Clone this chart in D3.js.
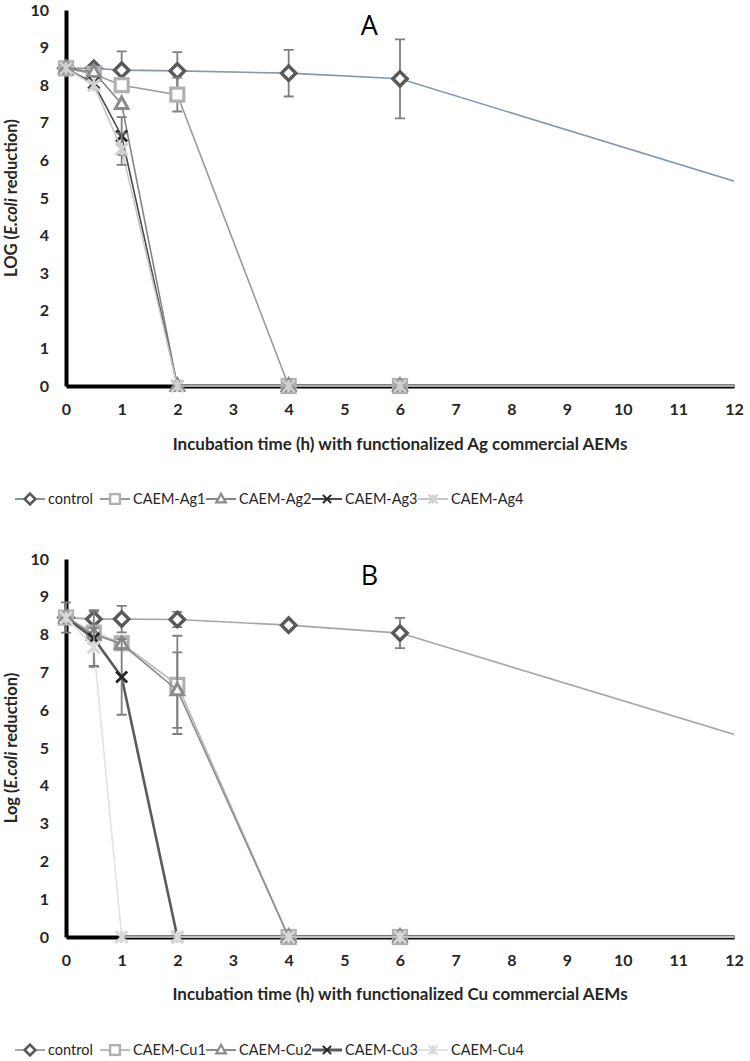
<!DOCTYPE html>
<html><head><meta charset="utf-8">
<script src="https://cdn.jsdelivr.net/npm/d3@7"></script>
<style>body{margin:0;background:#fff}svg{display:block}</style>
</head><body><svg id="c" width="750" height="1061"></svg>
<script>
// ---- data ----
const times = [0, 0.5, 1, 2, 4, 6, 24];
const xTicks = [0,1,2,3,4,5,6,7,8,9,10,11,12];
const yTicks = [0,1,2,3,4,5,6,7,8,9,10];

const namesA = ["control","CAEM-Ag1","CAEM-Ag2","CAEM-Ag3","CAEM-Ag4"];
const controlA = [8.45, 8.45, 8.4, 8.38, 8.32, 8.17, 0];
const ag1A     = [8.45, 8.3, 8.0, 7.75, 0, 0, 0];
const ag2A     = [8.45, 8.35, 7.5, 0, 0, 0, 0];
const ag3A     = [8.45, 8.05, 6.65, 0, 0, 0, 0];
const ag4A     = [8.45, 8.0, 6.3, 0, 0, 0, 0];
const errControlA = [0, 0, 0.5, 0.5, 0.62, 1.05, 0];
const errAg1A     = [0, 0, 0, 0.45, 0, 0, 0];
const errAg2A     = [0, 0, 0, 0, 0, 0, 0];
const errAg3A     = [0, 0, 0.5, 0, 0, 0, 0];
const errAg4A     = [0, 0, 0.42, 0, 0, 0, 0];

const namesB = ["control","CAEM-Cu1","CAEM-Cu2","CAEM-Cu3","CAEM-Cu4"];
const controlB = [8.45, 8.41, 8.41, 8.4, 8.25, 8.04, 0];
const cu1B     = [8.45, 8.05, 7.77, 6.67, 0, 0, 0];
const cu2B     = [8.45, 8.0, 7.75, 6.53, 0, 0, 0];
const cu3B     = [8.45, 7.9, 6.88, 0, 0, 0, 0];
const cu4B     = [8.45, 7.67, 0, 0, 0, 0, 0];
const errControlB = [0.4, 0.2, 0.35, 0.2, 0, 0.4, 0];
const errCu1B     = [0, 0, 0, 1.3, 0, 0, 0];
const errCu2B     = [0, 0, 0, 1.0, 0, 0, 0];
const errCu3B     = [0, 0.75, 1.0, 0, 0, 0, 0];
const errCu4B     = [0, 0.5, 0, 0, 0, 0, 0];

// ---- styles ----
const markers = ["diamond","square","triangle","x","star"];
const styleA = [
  {line:"#8497b0", lw:1.6, mc:"#595959"},
  {line:"#9a9a9a", lw:1.6, mc:"#b0b0b0"},
  {line:"#858585", lw:1.6, mc:"#8c8c8c"},
  {line:"#4a4a4a", lw:1.6, mc:"#262626"},
  {line:"#c8c8c8", lw:1.6, mc:"#d0d0d0"}
];
const styleB = [
  {line:"#a6a6a6", lw:1.6, mc:"#595959"},
  {line:"#bdbdbd", lw:1.8, mc:"#b0b0b0"},
  {line:"#8c8c8c", lw:1.6, mc:"#8c8c8c"},
  {line:"#5a5a5a", lw:2.6, mc:"#262626"},
  {line:"#e2e2e2", lw:1.6, mc:"#d9d9d9"}
];

const svg = d3.select("#c");
const FONT = "Lato, 'Open Sans', sans-serif";

function drawMarker(g, type, color, cx, cy, scale) {
  const s = scale || 1;
  if (type === "diamond") {
    const r = 7.2*s;
    g.append("path").attr("d",`M${cx},${cy-r}L${cx+r},${cy}L${cx},${cy+r}L${cx-r},${cy}Z`)
      .attr("fill","#fff").attr("stroke",color).attr("stroke-width",3.4*s);
  } else if (type === "square") {
    const r = 6.5*s;
    g.append("rect").attr("x",cx-r).attr("y",cy-r).attr("width",2*r).attr("height",2*r)
      .attr("fill","#fff").attr("stroke",color).attr("stroke-width",3.2*s);
  } else if (type === "triangle") {
    const r = 7*s;
    g.append("path").attr("d",`M${cx},${cy-r}L${cx+r*0.9},${cy+r*0.65}L${cx-r*0.9},${cy+r*0.65}Z`)
      .attr("fill","#fff").attr("stroke",color).attr("stroke-width",3*s);
  } else if (type === "x") {
    const r = 5.5*s;
    g.append("path").attr("d",`M${cx-r},${cy-r}L${cx+r},${cy+r}M${cx-r},${cy+r}L${cx+r},${cy-r}`)
      .attr("stroke",color).attr("stroke-width",2.8*s).attr("fill","none");
  } else if (type === "star") {
    const r = 6*s;
    g.append("path").attr("d",`M${cx-r},${cy-r}L${cx+r},${cy+r}M${cx-r},${cy+r}L${cx+r},${cy-r}M${cx},${cy-r}L${cx},${cy+r}`)
      .attr("stroke",color).attr("stroke-width",3*s).attr("fill","none");
  }
}

function panel(cfg) {
  const {top, bottom, left, right, series, errs, styles, names, title, titleDy, xTitle, yTitleMain, legendY, legendX, id} = cfg;
  const x = d3.scaleLinear().domain([0,12]).range([left,right]);
  const y = d3.scaleLinear().domain([0,10]).range([bottom,top]);
  const g = svg.append("g");

  svg.append("defs").append("clipPath").attr("id","clip"+id)
    .append("rect").attr("x",left-12).attr("y",top-20).attr("width",right-left+12).attr("height",bottom-top+40);

  // axes
  const yAxis = d3.axisLeft(y).tickValues(yTicks).tickSize(0).tickPadding(17).tickFormat(d3.format("d"));
  const ya = g.append("g").attr("transform",`translate(${left},0)`).call(yAxis);
  const xAxis = d3.axisBottom(x).tickValues(xTicks).tickSize(0).tickPadding(18).tickFormat(d3.format("d"));
  const xa = g.append("g").attr("transform",`translate(0,${bottom})`).call(xAxis);
  [ya, xa].forEach(a => {
    a.select(".domain").attr("stroke","#000").attr("stroke-width",4);
    a.selectAll("text").attr("font-family",FONT).attr("font-weight","bold").attr("font-size",16).attr("fill","#262626");
  });

  const plot = g.append("g").attr("clip-path",`url(#clip${id})`);
  const line = d3.line().x(d => x(d.t)).y(d => y(d.v));

  series.forEach((vals, i) => {
    const pts = times.map((t, j) => ({t, v: vals[j], e: errs[i][j]}));
    plot.append("path").datum(pts).attr("d", line).attr("fill","none")
      .attr("stroke", styles[i].line).attr("stroke-width", styles[i].lw);
    pts.filter(p => p.e > 0 && p.t <= 12).forEach(p => {
      const cx = x(p.t), y1 = y(p.v + p.e), y2 = y(p.v - p.e);
      plot.append("path").attr("d",`M${cx},${y1}L${cx},${y2}M${cx-5},${y1}L${cx+5},${y1}M${cx-5},${y2}L${cx+5},${y2}`)
        .attr("stroke","#7f7f7f").attr("stroke-width",1.8).attr("fill","none");
    });
    pts.filter(p => p.t <= 12).forEach(p => drawMarker(plot, markers[i], styles[i].mc, x(p.t), y(p.v)));
  });

  // panel letter
  g.append("text").attr("x", x(5.45)).attr("y", top + titleDy).attr("text-anchor","middle")
    .attr("font-family","'Open Sans', sans-serif").attr("font-size",27).attr("fill","#000").text(title);

  // x title
  g.append("text").attr("x", x(6)).attr("y", xTitle.y).attr("text-anchor","middle")
    .attr("font-family",FONT).attr("font-weight","bold").attr("font-size",17).attr("fill","#262626").text(xTitle.text);

  // y title
  const yt = g.append("text").attr("transform",`translate(17,${(top+bottom)/2}) rotate(-90)`)
    .attr("text-anchor","middle").attr("font-family",FONT).attr("font-weight","bold").attr("font-size",16.5).attr("fill","#262626");
  yt.append("tspan").text(yTitleMain + " (");
  yt.append("tspan").attr("font-style","italic").text("E.coli");
  yt.append("tspan").text(" reduction)");

  // legend
  const lg = g.append("g");
  names.forEach((n, i) => {
    const lx = legendX[i];
    lg.append("line").attr("x1",lx).attr("x2",lx+30).attr("y1",legendY).attr("y2",legendY)
      .attr("stroke",styles[i].line).attr("stroke-width",styles[i].lw+0.4);
    drawMarker(lg, markers[i], styles[i].mc, lx+15, legendY, 0.75);
    lg.append("text").attr("x",lx+33).attr("y",legendY).attr("dy","0.35em")
      .attr("font-family",FONT).attr("font-size",14.5).attr("fill","#262626").text(n);
  });
}

const legendX = [15, 100, 206, 312, 418];

panel({id:"A", top:10, bottom:386, left:66, right:734,
  series:[controlA, ag1A, ag2A, ag3A, ag4A],
  errs:[errControlA, errAg1A, errAg2A, errAg3A, errAg4A],
  styles:styleA, names:namesA, title:"A", titleDy:25,
  xTitle:{y:450, text:"Incubation time (h) with functionalized Ag commercial AEMs"},
  yTitleMain:"LOG", legendY:499, legendX});

panel({id:"B", top:559, bottom:937, left:66, right:734,
  series:[controlB, cu1B, cu2B, cu3B, cu4B],
  errs:[errControlB, errCu1B, errCu2B, errCu3B, errCu4B],
  styles:styleB, names:namesB, title:"B", titleDy:26,
  xTitle:{y:1000, text:"Incubation time (h) with functionalized Cu commercial AEMs"},
  yTitleMain:"Log", legendY:1050, legendX});
</script></body></html>
